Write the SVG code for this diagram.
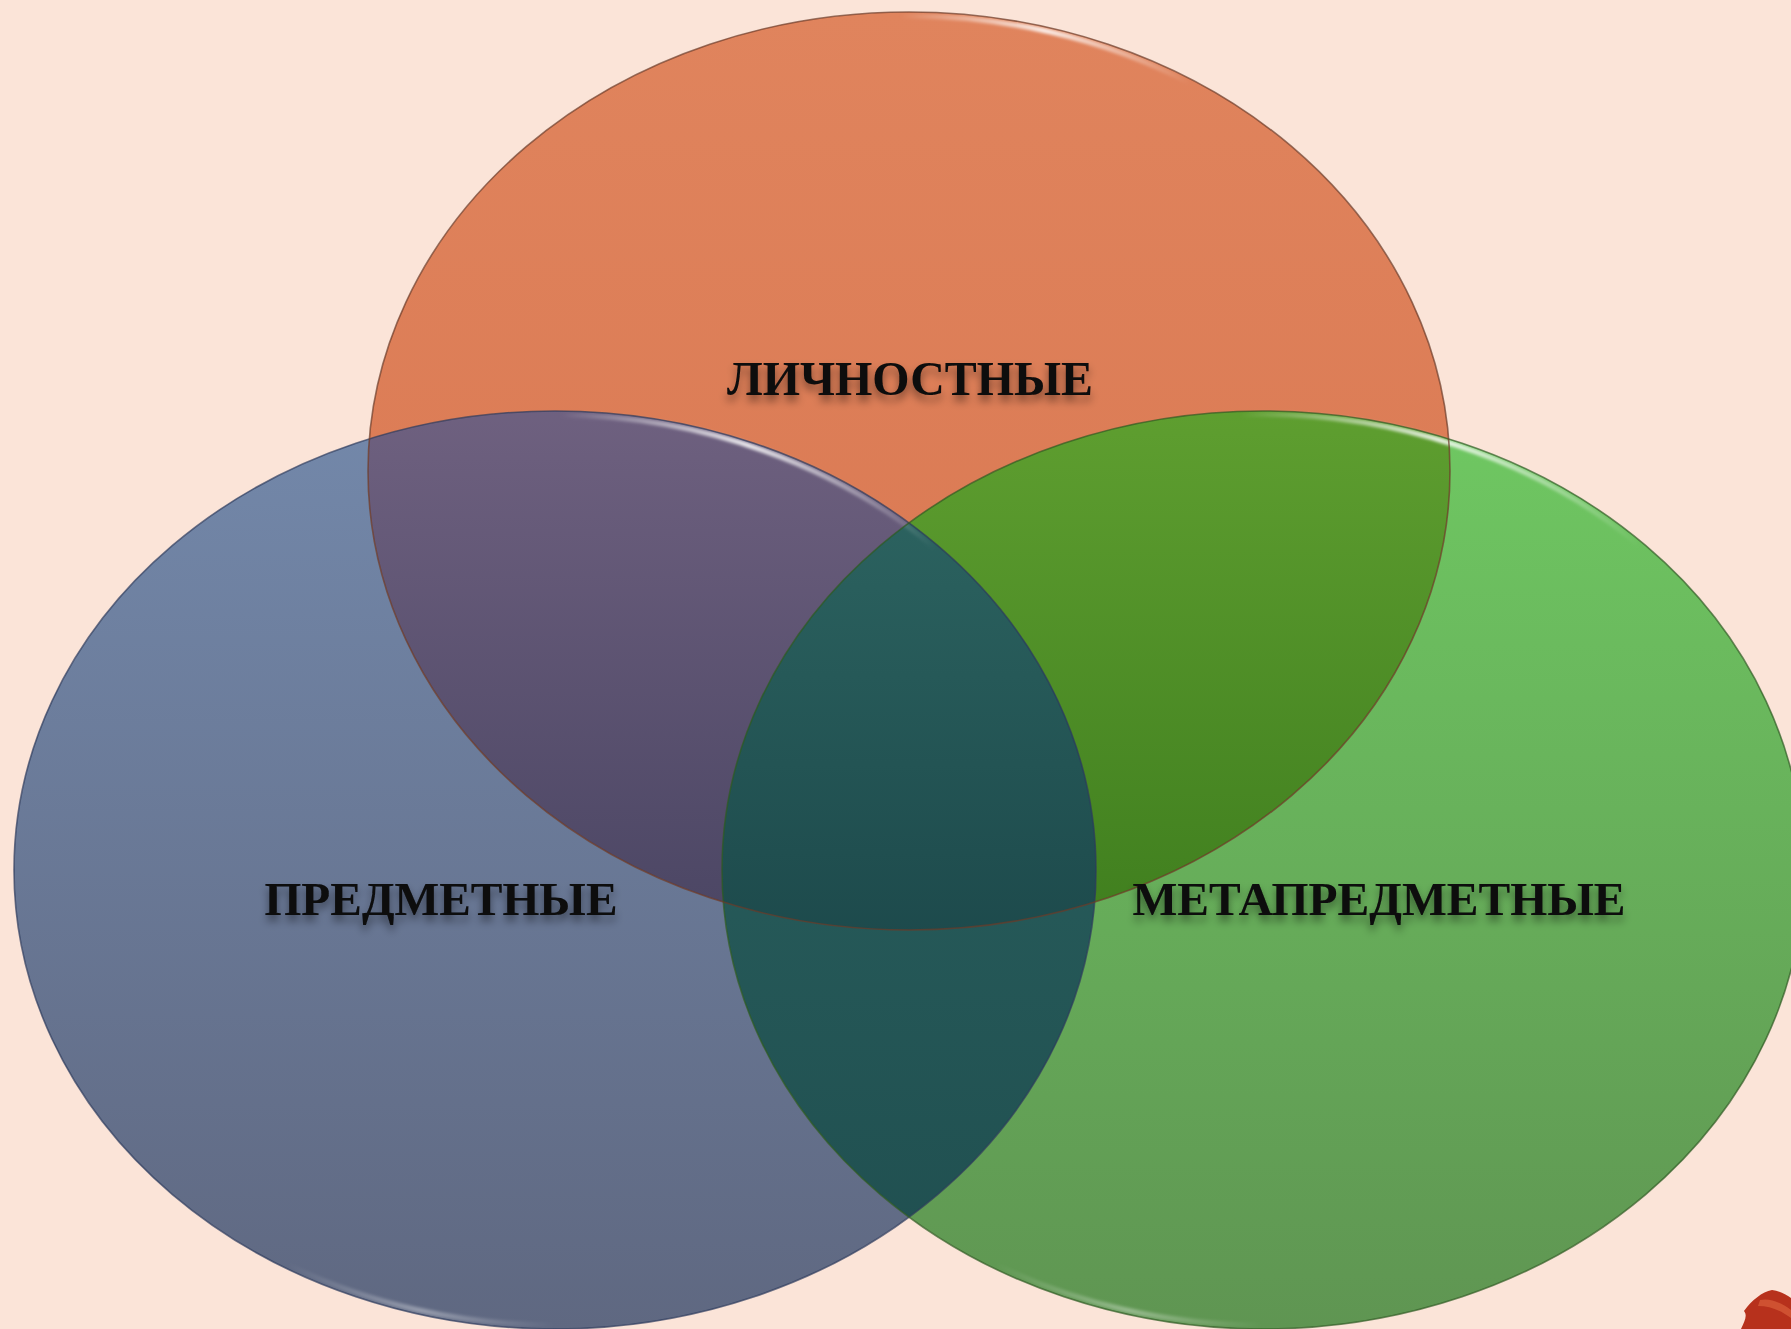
<svg xmlns="http://www.w3.org/2000/svg" width="1791" height="1329" viewBox="0 0 1791 1329">
<style>
.lbl{font-family:"Liberation Serif","Times New Roman",serif;font-weight:bold;fill:#0a0a0a;filter:url(#tshadow)}
.edge{fill:none;stroke-width:1.6}
.gloss{fill:none;stroke-width:5;filter:url(#blur2)}
</style>
<defs>
<clipPath id="cO"><ellipse cx="909" cy="471" rx="541" ry="459"/></clipPath>
<clipPath id="cB"><ellipse cx="555" cy="870" rx="541" ry="459"/></clipPath>
<clipPath id="cG"><ellipse cx="1263" cy="870" rx="541" ry="459"/></clipPath>
<linearGradient id="gO" x1="0" y1="0" x2="0" y2="1"><stop offset="0" stop-color="#e0845d"/><stop offset="1" stop-color="#d8754f"/></linearGradient>
<linearGradient id="gB" x1="0" y1="0" x2="0" y2="1"><stop offset="0" stop-color="#7388aa"/><stop offset="1" stop-color="#5f6881"/></linearGradient>
<linearGradient id="gG" x1="0" y1="0" x2="0" y2="1"><stop offset="0" stop-color="#6fc862"/><stop offset="1" stop-color="#5f9552"/></linearGradient>
<linearGradient id="gOB" x1="0" y1="0" x2="0" y2="1"><stop offset="0" stop-color="#6f6180"/><stop offset="1" stop-color="#4a4563"/></linearGradient>
<linearGradient id="gOG" x1="0" y1="0" x2="0" y2="1"><stop offset="0" stop-color="#5f9f30"/><stop offset="1" stop-color="#3f7e1e"/></linearGradient>
<linearGradient id="gBG" x1="0" y1="0" x2="0" y2="1"><stop offset="0" stop-color="#2b6260"/><stop offset="1" stop-color="#1f4e4f"/></linearGradient>
<linearGradient id="gAll" x1="0" y1="0" x2="0" y2="1"><stop offset="0" stop-color="#2c6360"/><stop offset="1" stop-color="#1d4a4c"/></linearGradient>
<linearGradient id="hl" x1="0" y1="0" x2="1" y2="0"><stop offset="0" stop-color="#ffffff" stop-opacity="0"/><stop offset="0.5" stop-color="#ffffff" stop-opacity="0.85"/><stop offset="1" stop-color="#ffffff" stop-opacity="0"/></linearGradient>
<filter id="blur2" x="-10%" y="-10%" width="120%" height="120%"><feGaussianBlur stdDeviation="1.5"/></filter>
<filter id="tshadow" x="-10%" y="-30%" width="120%" height="180%"><feDropShadow dx="0" dy="6" stdDeviation="4" flood-color="#000000" flood-opacity="0.45"/></filter>
</defs>
<rect x="0" y="0" width="1791" height="1329" fill="#fbe4d8"/>
<g id="nodes">
<g id="node-predmetnye">
<ellipse cx="555" cy="870" rx="541" ry="459" fill="url(#gB)"/>
</g>
<g id="node-metapredmetnye">
<ellipse cx="1263" cy="870" rx="541" ry="459" fill="url(#gG)"/>
</g>
<g id="node-lichnostnye">
<ellipse cx="909" cy="471" rx="541" ry="459" fill="url(#gO)"/>
</g>
<g id="overlaps">
<g clip-path="url(#cO)"><g clip-path="url(#cB)"><rect x="0" y="400" width="1100" height="540" fill="url(#gOB)"/></g></g>
<g clip-path="url(#cO)"><g clip-path="url(#cG)"><rect x="700" y="400" width="1100" height="540" fill="url(#gOG)"/></g></g>
<g clip-path="url(#cB)"><g clip-path="url(#cG)"><rect x="700" y="500" width="420" height="829" fill="url(#gBG)"/></g></g>
<g clip-path="url(#cO)"><g clip-path="url(#cB)"><g clip-path="url(#cG)"><rect x="700" y="500" width="420" height="440" fill="url(#gAll)"/></g></g></g>
</g>
<g id="gloss">
<path class="gloss" stroke="url(#hl)" d="M 560 415 A 537 455 0 0 1 935 548"/>
<path class="gloss" stroke="url(#hl)" d="M 1240 415 A 537 455 0 0 1 1640 546"/>
<path class="gloss" stroke="url(#hl)" d="M 900 16 A 537 455 0 0 1 1190 83"/>
<path class="gloss" stroke="url(#hl)" d="M 286.5 1264 A 537 455 0 0 0 555 1325" opacity="0.4"/>
<path class="gloss" stroke="url(#hl)" d="M 994.5 1264 A 537 455 0 0 0 1263 1325" opacity="0.4"/>
</g>
<g id="edges">
<ellipse class="edge" cx="555" cy="870" rx="541" ry="459" stroke="#2c3b5c" stroke-opacity="0.7"/>
<ellipse class="edge" cx="1263" cy="870" rx="541" ry="459" stroke="#2d5a22" stroke-opacity="0.7"/>
<ellipse class="edge" cx="909" cy="471" rx="541" ry="459" stroke="#6b3a28" stroke-opacity="0.7"/>
</g>
<g id="labels">
<text class="lbl" x="910" y="395" font-size="48" text-anchor="middle" textLength="366" lengthAdjust="spacingAndGlyphs">ЛИЧНОСТНЫЕ</text>
<text class="lbl" x="441" y="915" font-size="46" text-anchor="middle" textLength="353" lengthAdjust="spacingAndGlyphs">ПРЕДМЕТНЫЕ</text>
<text class="lbl" x="1379" y="915" font-size="46" text-anchor="middle" textLength="493" lengthAdjust="spacingAndGlyphs">МЕТАПРЕДМЕТНЫЕ</text>
</g>
</g>
<g id="leaf">
<path d="M 1744 1311 C 1752 1300 1762 1292 1772 1290 C 1780 1291 1787 1295 1791 1298 L 1791 1329 L 1741 1329 C 1744 1322 1748 1316 1744 1311 Z" fill="#b7311c"/>
<path d="M 1760 1300 C 1770 1298 1780 1302 1791 1310 L 1791 1318 C 1780 1310 1770 1306 1758 1306 Z" fill="#d9603a" opacity="0.7"/>
</g>
</svg>
